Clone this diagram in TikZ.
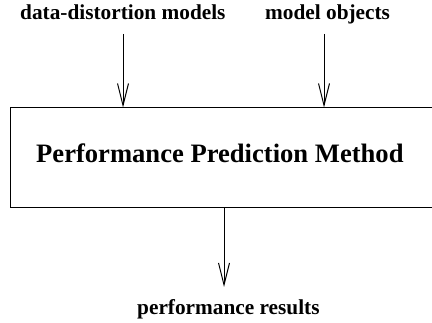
\documentclass[tikz,border=0pt]{standalone}
\usepackage{fontspec}
\setmainfont{Liberation Serif}
\usetikzlibrary{arrows.meta}
\tikzset{
  lbl/.style={inner sep=0pt, anchor=base west, font=\bfseries\fontsize{21.3}{24}\selectfont},
  title/.style={inner sep=0pt, anchor=base west, font=\bfseries\fontsize{26.6}{30}\selectfont},
  arr/.style={line width=1pt, -{Straight Barb[length=22pt,width=11pt,line width=1pt]}},
  boxst/.style={draw, line width=1pt, inner sep=0pt, minimum width=436pt, minimum height=100pt}
}
\begin{document}
\begin{tikzpicture}[x=1pt,y=1pt]
\useasboundingbox (0,0) rectangle (432,322);
\clip (0,0) rectangle (432,322);
\node[lbl] (dd) at (20,302) {data-distortion models};
\node[lbl] (mo) at (265,302) {model objects};
\node[boxst] (box) at (228,164) {};
\node[title] (t) at (36,159) {Performance Prediction Method};
\node[lbl] (pr) at (137,7) {performance results};
\coordinate (s1) at (123,288);
\coordinate (s2) at (324,288);
\coordinate (e3) at (224,35);
\draw[arr] (s1) -- (s1 |- box.north);
\draw[arr] (s2) -- (s2 |- box.north);
\draw[arr] (e3 |- box.south) -- (e3);
\end{tikzpicture}
\end{document}
